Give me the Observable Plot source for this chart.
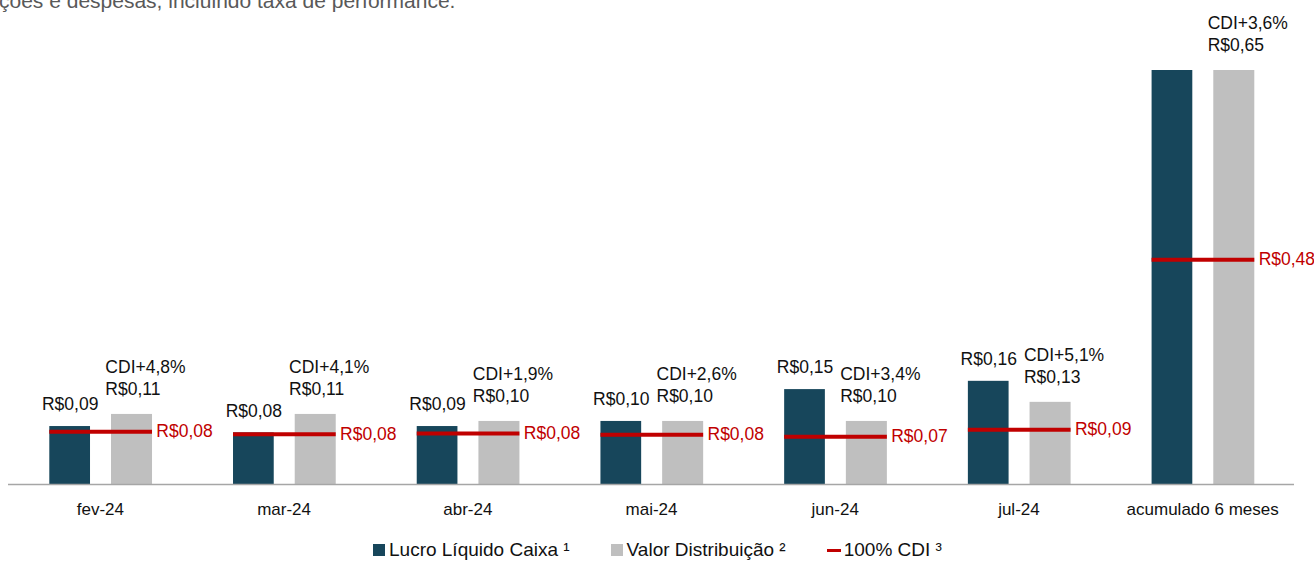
<!DOCTYPE html>
<html>
<head>
<meta charset="utf-8">
<script src="https://cdn.jsdelivr.net/npm/d3@7"></script>
<script src="https://cdn.jsdelivr.net/npm/@observablehq/plot@0.6"></script>
<style>
  html, body { margin: 0; padding: 0; background: #fff; }
  body { width: 1314px; height: 561px; position: relative; overflow: hidden; font-family: "Liberation Sans", Arial, sans-serif; }
  #subtitle { position: absolute; left: -1px; top: -10px; font-size: 21px; line-height: 21px; color: #595959; white-space: nowrap; }
  #chart { position: absolute; left: 0; top: 0; }
  #legend { position: absolute; left: 373px; top: 540px; display: flex; align-items: center; font-size: 19px; line-height: 20px; color: #111; white-space: nowrap; }
  #legend .item { display: flex; align-items: center; margin-right: 41px; }
  #legend .sw { width: 12px; height: 12px; margin-right: 4px; }
  #legend .ln { width: 14px; height: 3px; margin-right: 3px; }
</style>
</head>
<body>
<div id="subtitle">ções e despesas, incluindo taxa de performance.</div>
<div id="chart"></div>
<div id="legend"></div>
<script>
const months = ["fev-24", "mar-24", "abr-24", "mai-24", "jun-24", "jul-24", "acumulado 6 meses"];
const lucro = [0.091, 0.081, 0.091, 0.099, 0.149, 0.162, 0.65];
const valor = [0.110, 0.110, 0.099, 0.099, 0.099, 0.129, 0.65];
const cdi = [0.083, 0.079, 0.080, 0.078, 0.075, 0.086, 0.353];
const lucroLabels = ["R$0,09", "R$0,08", "R$0,09", "R$0,10", "R$0,15", "R$0,16", ""];
const valorLabels = ["R$0,11", "R$0,11", "R$0,10", "R$0,10", "R$0,10", "R$0,13", "R$0,65"];
const spreadLabels = ["CDI+4,8%", "CDI+4,1%", "CDI+1,9%", "CDI+2,6%", "CDI+3,4%", "CDI+5,1%", "CDI+3,6%"];
const cdiLabels = ["R$0,08", "R$0,08", "R$0,08", "R$0,08", "R$0,07", "R$0,09", "R$0,48"];
const seriesNames = ["Lucro Líquido Caixa ¹", "Valor Distribuição ²", "100% CDI ³"];
const colors = ["#17465B", "#BFBFBF", "#C00000"];

const data = months.map((m, i) => ({
  month: m, lucro: lucro[i], valor: valor[i], cdi: cdi[i],
  lucroLabel: lucroLabels[i], valorLabel: valorLabels[i],
  spreadLabel: spreadLabels[i], cdiLabel: cdiLabels[i]
}));

const font = "'Liberation Sans', Arial, sans-serif";
const lf = 17.5;

const chart = Plot.plot({
  width: 1314,
  height: 530,
  marginLeft: 8,
  marginRight: 20,
  marginTop: 70,
  marginBottom: 46,
  style: { fontFamily: font, fontSize: "17px", color: "#111", background: "transparent", overflow: "visible" },
  x: { domain: months, padding: 0, round: false, label: null },
  y: { domain: [0, 0.65], axis: null },
  marks: [
    Plot.axisX({ tickSize: 0, tickPadding: 18, label: null, fontSize: 17, fill: "#111" }),
    Plot.barY(data, { x: "month", y: "lucro", fill: colors[0], insetLeft: 41.3, insetRight: 101.7 }),
    Plot.barY(data, { x: "month", y: "valor", fill: colors[1], insetLeft: 103, insetRight: 39.7 }),
    Plot.ruleY([0], { stroke: "#A6A6A6", strokeWidth: 1.5 }),
    Plot.tickY(data, { x: "month", y: "cdi", stroke: colors[2], strokeWidth: 4, insetLeft: 41.3, insetRight: 39.7 }),
    Plot.text(data.filter(d => d.lucroLabel), { x: "month", y: "lucro", text: "lucroLabel", dx: -30.2, dy: -22, fontSize: lf, fill: "#111" }),
    Plot.text(data, { x: "month", y: "valor", text: "valorLabel", dx: 5, dy: -25, textAnchor: "start", fontSize: lf, fill: "#111" }),
    Plot.text(data, { x: "month", y: "valor", text: "spreadLabel", dx: 5, dy: -47, textAnchor: "start", fontSize: lf, fill: "#111" }),
    Plot.text(data, { x: "month", y: "cdi", text: "cdiLabel", dx: 56, dy: 0, textAnchor: "start", fontSize: lf, fill: colors[2] })
  ]
});
document.getElementById("chart").appendChild(chart);

const legend = document.getElementById("legend");
seriesNames.forEach((name, i) => {
  const item = document.createElement("div");
  item.className = "item";
  const sw = document.createElement("div");
  sw.className = i === 2 ? "ln" : "sw";
  sw.style.background = colors[i];
  const label = document.createElement("span");
  label.textContent = name;
  item.appendChild(sw);
  item.appendChild(label);
  legend.appendChild(item);
});
</script>
</body>
</html>
